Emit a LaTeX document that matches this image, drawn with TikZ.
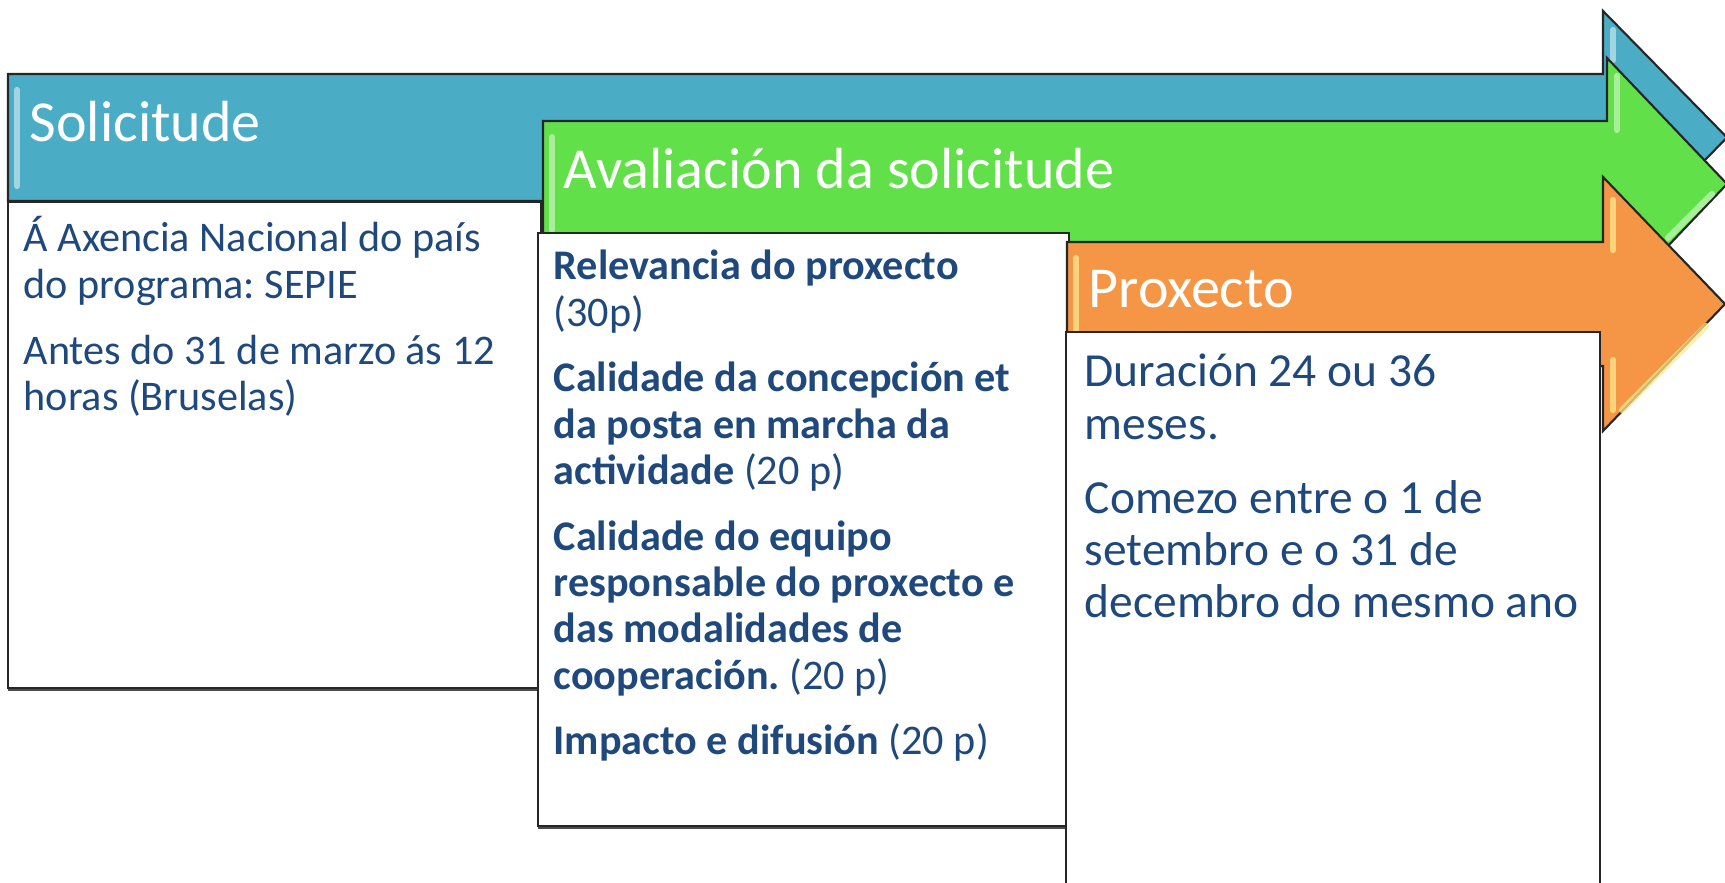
\documentclass[tikz,border=0pt]{standalone}
\usepackage{fontspec}
\setmainfont{Carlito}
\usepackage{tikz}
\usetikzlibrary{positioning,shadows}

\definecolor{solblue}{HTML}{4BACC6}
\definecolor{avagreen}{HTML}{62E04A}
\definecolor{proorange}{HTML}{F59647}
\definecolor{textblue}{HTML}{1F497D}

\frenchspacing
\begin{document}
\begin{tikzpicture}[x=0.01cm,y=-0.01cm,
  stage/.style={draw=black!85,line width=0.6pt,line join=miter},
  bevel/.style={line width=1.8pt,line cap=round,opacity=0.75},
  panel/.style={draw=black!85,fill=white,line width=0.6pt,
    drop shadow={shadow xshift=0pt,shadow yshift=-0.9pt,opacity=0.7,fill=black}},
  title/.style={anchor=base west,inner sep=0pt,text=white,
    font=\fontsize{16.5}{19}\selectfont},
  body/.style={anchor=base west,inner sep=0pt,text=textblue,text badly ragged,
    text width=5.4cm,font=\fontsize{12}{13.2}\selectfont}]
  \useasboundingbox (0,0) rectangle (1725,883);
  \clip (0,0) rectangle (1725,883);

  % Solicitude
  \draw[stage,fill=solblue] (8,74) -- (1603,74) -- (1603,11) -- (1727,137.5)
    -- (1603,264) -- (1603,201) -- (8,201) -- cycle;
  \draw[bevel,solblue!35!white] (17,90) -- (17,186);
  \draw[bevel,solblue!35!white] (1613,30) -- (1613,60);
  \draw[panel] (8,202) rectangle (541,688);
  \node[title] at (29,142) (solicitude) {Solicitude};
  \node[body] at (23,252) (solicitudetxt) {%
    Á Axencia Nacional do país\\
    do programa: SEPIE\\[5.6pt]
    Antes do 31 de marzo ás 12\\
    horas (Bruselas)};

  % Avaliacion da solicitude
  \draw[stage,fill=avagreen] (543,121) -- (1607,121) -- (1607,58) -- (1727,184)
    -- (1607,310) -- (1607,247) -- (543,247) -- cycle;
  \draw[bevel,avagreen!40!white] (552,137) -- (552,230);
  \draw[bevel,avagreen!40!white] (1617,76) -- (1617,130);
  \draw[bevel,avagreen!40!white] (1668,238) -- (1712,194);
  \draw[panel] (538,233) rectangle (1069,826);
  \node[title] at (563,189) (avaliacion) {Avaliación da solicitude};
  \node[body] at (553,280) (avaliaciontxt) {%
    \textbf{Relevancia do proxecto}\\
    (30p)\\[5.4pt]
    \textbf{Calidade da concepción et}\\
    \textbf{da posta en marcha da}\\
    \textbf{actividade} (20 p)\\[5.4pt]
    \textbf{Calidade do equipo}\\
    \textbf{responsable do proxecto e}\\
    \textbf{das modalidades de}\\
    \textbf{cooperación.} (20 p)\\[5.4pt]
    \textbf{Impacto e difusión} (20 p)};

  % Proxecto
  \draw[stage,fill=proorange] (1067,242) -- (1603,242) -- (1603,177) -- (1725,304)
    -- (1603,431) -- (1603,366) -- (1067,366) -- cycle;
  \draw[bevel,proorange!40!yellow!50!white] (1076,258) -- (1076,330);
  \draw[bevel,proorange!40!yellow!50!white] (1613,200) -- (1613,250);
  \draw[bevel,proorange!40!yellow!50!white] (1613,360) -- (1613,410);
  \draw[bevel,proorange!40!yellow!50!white] (1622,410) -- (1706,326);
  \draw[panel] (1066,332) rectangle (1600,900);
  \node[title] at (1088,308) (proxecto) {Proxecto};
  \node[body,font=\fontsize{13.5}{14.8}\selectfont]
    at (1084,387) (proxectotxt) {%
    Duración 24 ou 36\\
    meses.\\[6.3pt]
    Comezo entre o 1 de\\
    setembro e o 31 de\\
    decembro do mesmo ano};
\end{tikzpicture}
\end{document}
